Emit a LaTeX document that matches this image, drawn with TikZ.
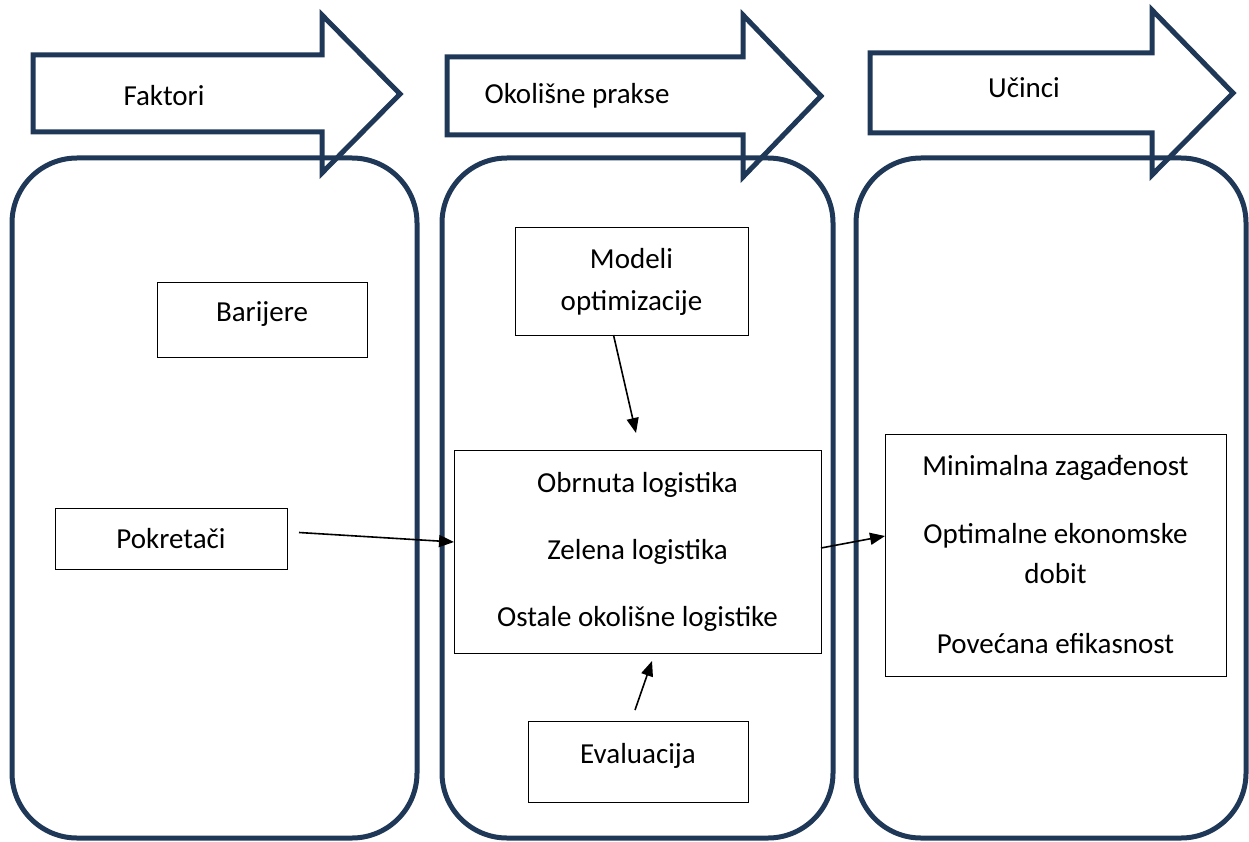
\documentclass[tikz,border=0pt]{standalone}
\usepackage{fontspec}
\setmainfont{Carlito}
\usetikzlibrary{arrows.meta}
\definecolor{navy}{RGB}{31,56,88}
\tikzset{
  panel/.style={draw=navy, line width=5pt, rounded corners=65pt, inner sep=0pt, outer sep=0pt},
  band/.style={draw=navy, line width=5pt, line join=miter},
  box/.style={draw, line width=1pt, inner sep=0pt, outer sep=0pt, align=center},
  link/.style={line width=1.6pt, -{Triangle[length=15pt,width=12pt]}},
}
\begin{document}
\begin{tikzpicture}[x=1pt, y=-1pt, every node/.style={font=\fontsize{29}{35}\selectfont}]
    \useasboundingbox (0,0) rectangle (1249,842);

    % Big arrows
    \draw[band] (33,55) -- (322,55) -- (322,15) -- (400,94) -- (322,173) -- (322,132) -- (33,132) -- cycle;
    \draw[band] (447,57) -- (743,57) -- (743,15) -- (821,96) -- (743,177) -- (743,135) -- (447,135) -- cycle;
    \draw[band] (870,53) -- (1152,53) -- (1152,10) -- (1233,93) -- (1152,175) -- (1152,133) -- (870,133) -- cycle;
    \node (faktori) at (164,96) {Faktori};
    \node (prakse) at (577,96) {Okolišne prakse};
    \node (ucinci) at (1024,88) {Učinci};

    % Panels
    \node[panel, minimum width=405pt, minimum height=680pt] (P1) at (214.5,498) {};
    \node[panel, minimum width=391pt, minimum height=680pt] (P2) at (637.5,498) {};
    \node[panel, minimum width=390pt, minimum height=680pt] (P3) at (1051,498) {};

    % Nodes
    \node[box, minimum width=210pt, minimum height=75pt, text depth=15pt] (bar) at (262,319.5) {Barijere};
    \node[box, minimum width=232pt, minimum height=61pt] (pok) at (171,538.5) {Pokretači};
    \node[box, minimum width=233pt, minimum height=107pt] (mod) at (631.5,281.5) {Modeli\\[7pt]optimizacije};
    \node[box, minimum width=367pt, minimum height=203pt] (prak) at (637.5,551.5)
        {Obrnuta logistika\\[32pt]Zelena logistika\\[32pt]Ostale okolišne logistike};
    \node[box, minimum width=220pt, minimum height=81pt, text depth=17pt] (eval) at (638,761.5) {Evaluacija};
    \node[box, minimum width=341pt, minimum height=242pt] (res) at (1055.5,555)
        {Minimalna zagađenost\\[33pt]Optimalne ekonomske\\[5pt]dobit\\[35pt]Povećana efikasnost};

    % Edges
    \draw[link] ([xshift=12pt, yshift=6pt]pok.east) -- ([yshift=9.5pt]prak.west);
    \draw[link] ([xshift=-18pt]mod.south) -- ([xshift=-1.5pt, yshift=17pt]prak.north);
    \draw[link] ([xshift=-3pt, yshift=11pt]eval.north) -- ([xshift=14.5pt, yshift=-8pt]prak.south);
    \draw[link] ([yshift=3.5pt]prak.east) -- ([yshift=19pt]res.west);
\end{tikzpicture}
\end{document}
